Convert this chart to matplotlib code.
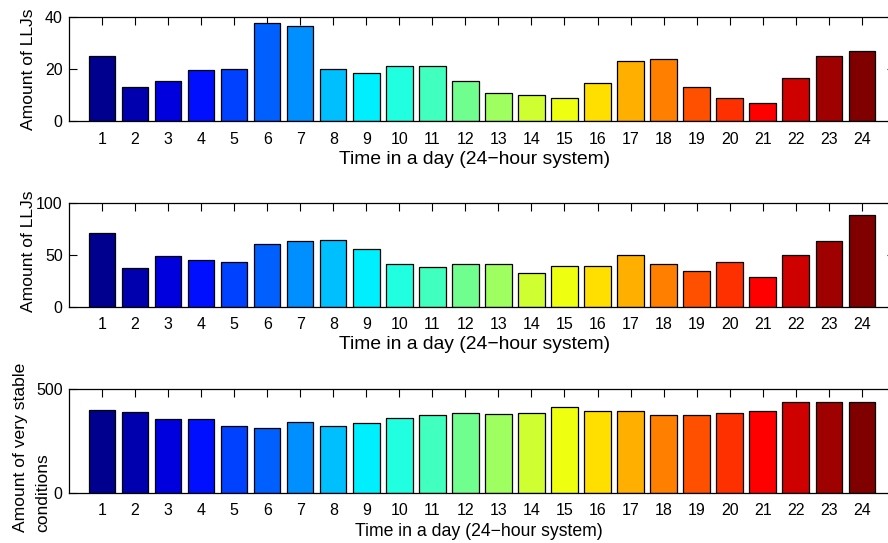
import numpy as np
import matplotlib
matplotlib.use("Agg")
import matplotlib.pyplot as plt

plt.rcParams['font.family'] = ['Liberation Sans', 'DejaVu Sans']

hours = list(range(1, 25))
llj_a = [25, 13, 15.5, 19.5, 20, 37.5, 36.5, 20, 18.5, 21, 21, 15.5,
         11, 10, 9, 14.5, 23, 24, 13, 9, 7, 16.5, 25, 27]
llj_b = [70.5, 37, 48.5, 44.5, 42.5, 60.5, 63, 64, 55, 41, 38.5, 41,
         41, 32, 39.5, 39.5, 50, 41, 34.5, 42.5, 28.5, 50, 63, 88.5]
stable = [399, 386, 353, 353, 320, 309, 340, 320, 333, 359, 372, 385,
          378, 385, 410, 391, 391, 372, 372, 385, 391, 436, 436, 436]

ylabels = ["Amount of LLJs", "Amount of LLJs",
           "Amount of very stable\nconditions"]
yticks = [[0, 20, 40], [0, 50, 100], [0, 500]]
xlabel = "Time in a day (24\u2212hour system)"


# matlab style jet(m)
def matlab_jet(m=64):
    n = int(np.ceil(m / 4))
    u = np.concatenate([np.arange(1, n + 1) / n, np.ones(n - 1),
                        np.arange(n, 0, -1) / n])
    g = int(np.ceil(n / 2)) - (m % 4 == 1) + np.arange(1, len(u) + 1)
    r = g + n
    b = g - n
    J = np.zeros((m, 3))
    ok = g <= m
    J[g[ok] - 1, 1] = u[ok]
    ok = r <= m
    J[r[ok] - 1, 0] = u[ok]
    ok = b >= 1
    J[b[ok] - 1, 2] = u[ok]
    return J


cmap64 = matlab_jet(64)
# scaled cdata 1..24 onto 64 colours, like matlab does
idx = np.minimum(np.floor((np.array(hours) - 1) / 23 * 64).astype(int), 63)
colors = cmap64[idx]

fig = plt.figure(figsize=(8.88, 5.43), dpi=100)
# axes boxes in figure coords (right edge runs past the figure, as in the source)
boxes = [(69/888, 0.7766, 825.8/888, 0.1926),
         (69/888, 0.4352, 825.8/888, 0.1915),
         (69/888, 0.0926, 825.8/888, 0.1916)]
xl_size = [13.9, 13.9, 12.7]
xl_pos = [(0.4916, -0.285), (0.4916, -0.285), (0.496, -0.29)]
yl_pos = [(-0.0394, 0.5), (-0.0394, 0.535), (-0.0225, 0.44)]

for i, (box, vals) in enumerate(zip(boxes, [llj_a, llj_b, stable])):
    ax = fig.add_axes(box)
    ax.bar(hours, vals, width=0.8, color=colors, edgecolor='black',
           linewidth=0.9)
    ax.set_xlim(0, 25)
    ax.set_ylim(yticks[i][0], yticks[i][-1])
    ax.set_xticks(hours)
    ax.set_yticks(yticks[i])
    ax.set_axisbelow(True)
    ax.tick_params(direction='in', length=5.5, width=0.8, top=True,
                   right=True, labelsize=11.5)
    ax.tick_params(axis='x', pad=7.5)
    ax.tick_params(axis='y', pad=4.5)
    for s in ax.spines.values():
        s.set_linewidth(0.9)
    ax.set_xlabel(xlabel, fontsize=xl_size[i])
    ax.xaxis.set_label_coords(*xl_pos[i])
    ax.set_ylabel(ylabels[i], fontsize=12.6, linespacing=1.65,
                  multialignment='left')
    ax.yaxis.set_label_coords(*yl_pos[i])

plt.savefig("out.png", dpi=100)
